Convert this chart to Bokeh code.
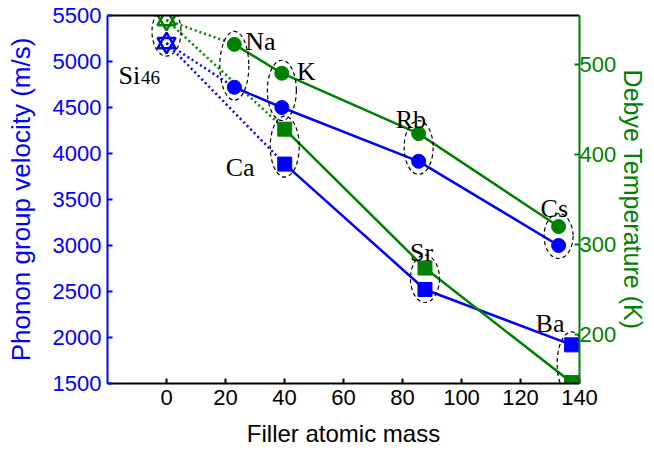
from bokeh.plotting import figure
from bokeh.models import Range1d, LinearAxis, FixedTicker
from bokeh.core.properties import value
from bokeh.embed import file_html
from bokeh.resources import INLINE

# ---------------- data ----------------
si_mass = [0.0]
si_vel = [5200]
si_debye = [549]

alk_names = ["Na", "K", "Rb", "Cs"]
alk_mass = [22.99, 39.10, 85.47, 132.91]
alk_vel = [4720, 4500, 3915, 3000]
alk_debye = [522, 490, 423, 320]

ae_names = ["Ca", "Sr", "Ba"]
ae_mass = [40.08, 87.62, 137.33]
ae_vel = [3885, 2522, 1920]
ae_debye = [428, 274, 147]

x_ticks = [0, 20, 40, 60, 80, 100, 120, 140]
vel_ticks = [1500, 2000, 2500, 3000, 3500, 4000, 4500, 5000, 5500]
debye_ticks = [200, 300, 400, 500]

X_MIN, X_MAX = -20, 140
V_MIN, V_MAX = 1500, 5500
T_MIN, T_MAX = 146, 554

BLUE = "#0000ff"
GREEN = "#008000"
SANS = "Liberation Sans"
SERIF = "Liberation Serif"

p = figure(width=654, height=450, x_range=Range1d(X_MIN, X_MAX),
           y_range=Range1d(V_MIN, V_MAX), output_backend="svg",
           toolbar_location=None, min_border_left=107, min_border_right=75,
           min_border_top=15, min_border_bottom=67)
p.extra_y_ranges = {"T": Range1d(T_MIN, T_MAX)}
p.grid.visible = False
p.outline_line_color = None


def style_axis(ax, color, ticks, label, label_size):
    ax.ticker = FixedTicker(ticks=ticks)
    ax.axis_line_color = color
    ax.axis_line_width = 2
    ax.major_tick_line_color = color
    ax.major_tick_line_width = 2
    ax.major_tick_in = 5
    ax.major_tick_out = 0
    ax.minor_tick_in = 0
    ax.minor_tick_out = 0
    ax.major_label_text_color = color
    ax.major_label_text_font = SANS
    ax.major_label_text_font_size = "22px"
    ax.axis_label = label
    ax.axis_label_text_color = color
    ax.axis_label_text_font = SANS
    ax.axis_label_text_font_size = label_size
    ax.axis_label_text_font_style = "normal"


style_axis(p.xaxis[0], "black", x_ticks, "Filler atomic mass", "24px")
p.xaxis[0].major_label_standoff = 6
p.xaxis[0].axis_label_standoff = 12
style_axis(p.yaxis[0], BLUE, vel_ticks, "Phonon group velocity (m/s)", "26px")
p.yaxis[0].major_label_standoff = 6
p.yaxis[0].axis_label_standoff = 14

right = LinearAxis(y_range_name="T")
style_axis(right, GREEN, debye_ticks, "Debye Temperature (K)", "25px")
right.major_label_standoff = 0
right.axis_label_standoff = 0
p.add_layout(right, "right")

top = LinearAxis()
top.ticker = FixedTicker(ticks=[])
top.axis_line_color = "black"
top.axis_line_width = 2
top.major_tick_in = 0
top.major_tick_out = 0
top.minor_tick_in = 0
top.minor_tick_out = 0
top.major_label_text_font_size = "0px"
top.major_label_standoff = 0
p.add_layout(top, "above")


def t_to_v(t):
    return V_MIN + (t - T_MIN) / (T_MAX - T_MIN) * (V_MAX - V_MIN)


# dotted links from the empty clathrate to Na and Ca
for xm, vv in ((alk_mass[0], alk_vel[0]), (ae_mass[0], ae_vel[0])):
    p.line([si_mass[0], xm], [si_vel[0], vv], line_color=BLUE, line_width=2.5,
           line_dash="2 3")
for xm, tt in ((alk_mass[0], alk_debye[0]), (ae_mass[0], ae_debye[0])):
    p.line([si_mass[0], xm], [si_debye[0], tt], line_color=GREEN, line_width=2.5,
           line_dash="2 3", y_range_name="T")

# solid series
p.line(alk_mass, alk_vel, line_color=BLUE, line_width=2.5)
p.line(ae_mass, ae_vel, line_color=BLUE, line_width=2.5)
p.line(alk_mass, alk_debye, line_color=GREEN, line_width=2.5, y_range_name="T")
p.line(ae_mass, ae_debye, line_color=GREEN, line_width=2.5, y_range_name="T")

p.scatter(alk_mass, alk_vel, marker="circle", size=14, color=BLUE)
p.scatter(ae_mass, ae_vel, marker="square", size=14, color=BLUE)
p.scatter(alk_mass, alk_debye, marker="circle", size=14, color=GREEN, y_range_name="T")
p.scatter(ae_mass, ae_debye, marker="square", size=14, color=GREEN, y_range_name="T")

# hexagram markers for Si46
for mk in ("triangle", "inverted_triangle"):
    p.scatter(si_mass, si_vel, marker=mk, size=18, fill_color=None,
              line_color=BLUE, line_width=2.5)
    p.scatter(si_mass, si_debye, marker=mk, size=18, fill_color=None,
              line_color=GREEN, line_width=2.5, y_range_name="T")

# dashed ellipses around each pair
all_mass = si_mass + alk_mass + ae_mass
all_vel = si_vel + alk_vel + ae_vel
all_debye = si_debye + alk_debye + ae_debye
pad = 26 * (V_MAX - V_MIN) / 368.0
ell_y = [(v + t_to_v(t)) / 2 for v, t in zip(all_vel, all_debye)]
ell_h = [abs(v - t_to_v(t)) + pad for v, t in zip(all_vel, all_debye)]
p.ellipse(x=all_mass, y=ell_y, width=29, height=ell_h, width_units="screen",
          height_units="data", fill_color=None, line_color="black",
          line_width=1.2, line_dash="4 3")

# element labels
lab_dx = {"Na": 11, "K": 15, "Rb": -23, "Cs": -18, "Ca": -59, "Sr": -15, "Ba": -36}
lab_dy = {"Na": -46, "K": -36, "Rb": -42, "Cs": -37, "Ca": 3, "Sr": -37, "Ba": -21}
names = alk_names + ae_names
p.text(x=alk_mass + ae_mass, y=alk_vel + ae_vel, text=names,
       x_offset=[lab_dx[n] for n in names], y_offset=[lab_dy[n] for n in names],
       text_font=value(SERIF), text_font_size="26px", text_color="black",
       text_baseline="alphabetic", text_align="left")
p.text(x=si_mass, y=si_vel, text=["Si"], x_offset=-48, y_offset=32,
       text_font=value(SERIF), text_font_size="26px", text_color="black",
       text_baseline="alphabetic", text_align="left")
p.text(x=si_mass, y=si_vel, text=["46"], x_offset=-25.5, y_offset=34.5,
       text_font=value(SERIF), text_font_size="19px", text_color="black",
       text_baseline="alphabetic", text_align="left")

open("out.html", "w").write(file_html(p, INLINE))
